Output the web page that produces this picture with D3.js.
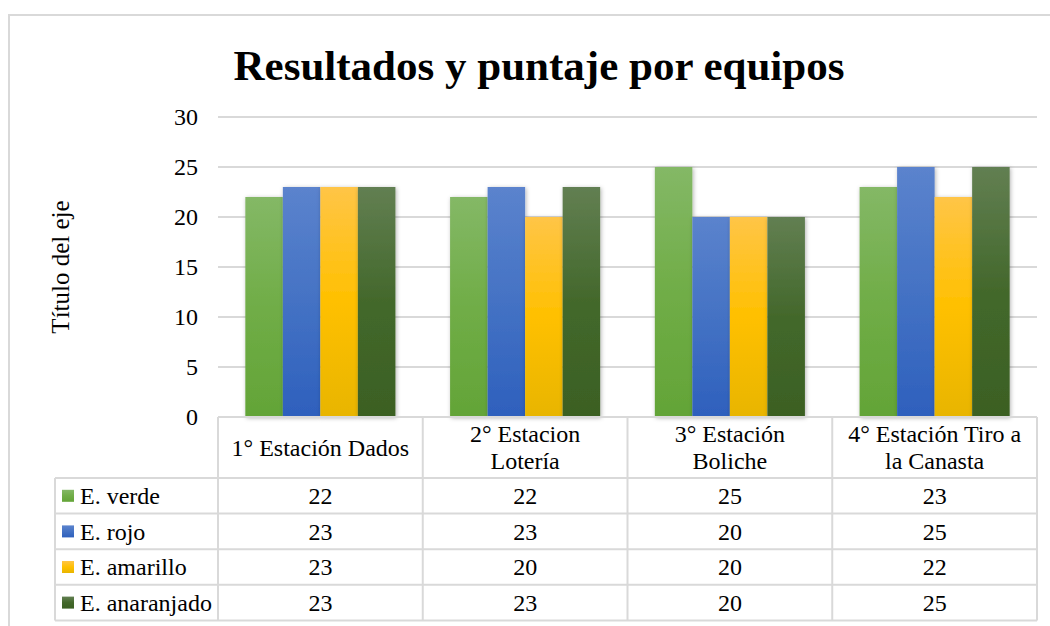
<!DOCTYPE html>
<html>
<head>
<meta charset="utf-8">
<script src="https://cdn.jsdelivr.net/npm/d3@7"></script>
<style>
  body { margin: 0; background: #fff; }
  text { font-family: "Times New Roman", "Liberation Serif", serif; fill: #000; }
</style>
</head>
<body>
<div id="chart"></div>
<script>
var categories = [["1° Estación Dados"], ["2° Estacion", "Lotería"], ["3° Estación", "Boliche"], ["4° Estación Tiro a", "la Canasta"]];
var seriesNames = ["E. verde", "E. rojo", "E. amarillo", "E. anaranjado"];
var seriesValues = [
  [22, 22, 25, 23],
  [23, 23, 20, 25],
  [23, 20, 20, 22],
  [23, 23, 20, 25]
];
var yTicks = [0, 5, 10, 15, 20, 25, 30];
// top / middle / bottom of each bar gradient
var seriesColors = [
  ["#84b866", "#70ad47", "#63a437"],
  ["#5b83cd", "#4472c4", "#2e60bd"],
  ["#ffc547", "#ffc000", "#e8b500"],
  ["#627f52", "#43682b", "#3b6023"]
];

var width = 1050, height = 626;
var plotLeft = 218, plotRight = 1037, plotTop = 117, plotBottom = 417;
var rowH = 35.6, headerBottom = 478, legendLeft = 55;
var gridColor = "#d9d9d9";
var fs = "24px";

var svg = d3.select("#chart").append("svg")
    .attr("width", width)
    .attr("height", height);

var defs = svg.append("defs");
seriesColors.forEach(function(c, i) {
  var g = defs.append("linearGradient")
      .attr("id", "grad" + i)
      .attr("x1", 0).attr("y1", 0).attr("x2", 0).attr("y2", 1);
  g.append("stop").attr("offset", "0%").attr("stop-color", c[0]);
  g.append("stop").attr("offset", "50%").attr("stop-color", c[1]);
  g.append("stop").attr("offset", "100%").attr("stop-color", c[2]);
});
var shadow = defs.append("filter").attr("id", "shadow")
    .attr("x", "-20%").attr("y", "-5%").attr("width", "140%").attr("height", "110%");
shadow.append("feDropShadow")
    .attr("dx", 1).attr("dy", 1).attr("stdDeviation", 2)
    .attr("flood-color", "#000").attr("flood-opacity", 0.3);

// chart frame
svg.append("rect")
    .attr("x", 9).attr("y", 15)
    .attr("width", width + 10).attr("height", height + 10)
    .attr("fill", "none")
    .attr("stroke", gridColor)
    .attr("stroke-width", 2);

// title
svg.append("text")
    .attr("x", 539).attr("y", 80)
    .attr("text-anchor", "middle")
    .style("font-size", "43px")
    .style("font-weight", "bold")
    .text("Resultados y puntaje por equipos");

var x = d3.scaleBand()
    .domain(d3.range(categories.length))
    .range([plotLeft, plotRight]);
var gap = x.bandwidth() * 0.267;
var xs = d3.scaleBand()
    .domain(d3.range(seriesNames.length))
    .range([gap / 2, x.bandwidth() - gap / 2]);
var y = d3.scaleLinear().domain([0, 30]).range([plotBottom, plotTop]);

// gridlines
svg.append("g")
  .selectAll("line")
  .data(yTicks.slice(1))
  .enter().append("line")
    .attr("x1", plotLeft).attr("x2", plotRight)
    .attr("y1", function(d) { return y(d); })
    .attr("y2", function(d) { return y(d); })
    .attr("stroke", gridColor)
    .attr("stroke-width", 2);

// y axis labels
svg.append("g")
  .selectAll("text")
  .data(yTicks)
  .enter().append("text")
    .attr("x", 198)
    .attr("y", function(d) { return y(d); })
    .attr("dy", "0.35em")
    .attr("text-anchor", "end")
    .style("font-size", fs)
    .text(function(d) { return d; });

svg.append("text")
    .attr("transform", "translate(69," + ((plotTop + plotBottom) / 2) + ")rotate(-90)")
    .attr("text-anchor", "middle")
    .style("font-size", "25px")
    .text("Título del eje");

// bars
seriesValues.forEach(function(vals, s) {
  svg.append("g")
      .attr("filter", "url(#shadow)")
    .selectAll("rect")
    .data(vals)
    .enter().append("rect")
      .attr("x", function(d, i) { return x(i) + xs(s); })
      .attr("y", function(d) { return y(d); })
      .attr("width", xs.bandwidth())
      .attr("height", function(d) { return plotBottom - y(d); })
      .attr("fill", "url(#grad" + s + ")");
});

// data table
var table = svg.append("g").attr("stroke", gridColor).attr("stroke-width", 2);
var tableBottom = headerBottom + rowH * seriesNames.length;
table.append("line")
    .attr("x1", plotLeft).attr("x2", plotRight)
    .attr("y1", plotBottom).attr("y2", plotBottom);
d3.range(seriesNames.length + 1).forEach(function(r) {
  table.append("line")
      .attr("x1", legendLeft).attr("x2", plotRight)
      .attr("y1", headerBottom + r * rowH).attr("y2", headerBottom + r * rowH);
});
table.append("line")
    .attr("x1", legendLeft).attr("x2", legendLeft)
    .attr("y1", headerBottom).attr("y2", tableBottom);
d3.range(categories.length + 1).forEach(function(c) {
  var xx = c < categories.length ? x(c) : plotRight;
  table.append("line")
      .attr("x1", xx).attr("x2", xx)
      .attr("y1", plotBottom).attr("y2", tableBottom);
});

// header text
categories.forEach(function(lines, i) {
  var cx = x(i) + x.bandwidth() / 2;
  var cy = (plotBottom + headerBottom) / 2;
  var t = svg.append("text")
      .attr("text-anchor", "middle")
      .style("font-size", fs);
  lines.forEach(function(l, k) {
    t.append("tspan")
        .attr("x", cx)
        .attr("y", cy + (k - (lines.length - 1) / 2) * 27)
        .attr("dy", "0.35em")
        .text(l);
  });
});

// rows
seriesNames.forEach(function(name, s) {
  var cy = headerBottom + rowH * s + rowH / 2;
  svg.append("rect")
      .attr("x", 62).attr("y", cy - 6)
      .attr("width", 12).attr("height", 12)
      .attr("fill", "url(#grad" + s + ")");
  svg.append("text")
      .attr("x", 80).attr("y", cy)
      .attr("dy", "0.35em")
      .style("font-size", fs)
      .text(name);
  svg.append("g")
    .selectAll("text")
    .data(seriesValues[s])
    .enter().append("text")
      .attr("x", function(d, i) { return x(i) + x.bandwidth() / 2; })
      .attr("y", cy)
      .attr("dy", "0.35em")
      .attr("text-anchor", "middle")
      .style("font-size", fs)
      .text(function(d) { return d; });
});
</script>
</body>
</html>
